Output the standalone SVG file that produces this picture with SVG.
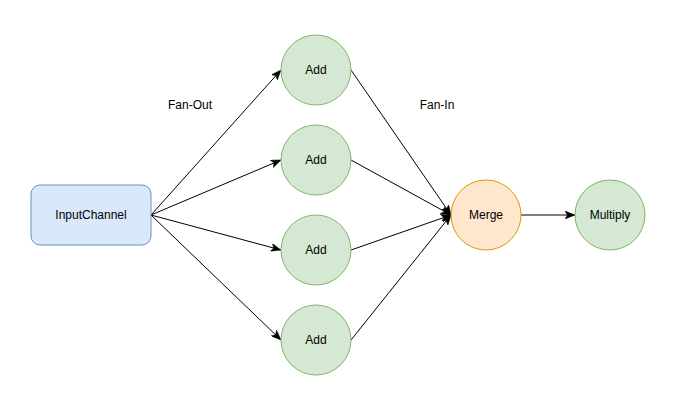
<svg xmlns="http://www.w3.org/2000/svg" width="687" height="420" viewBox="0 0 687 420">
<defs>
<marker id="arr" viewBox="0 0 10 8" refX="10" refY="4" markerWidth="10" markerHeight="8" markerUnits="userSpaceOnUse" orient="auto">
<path d="M0,0 L10,4 L0,8 L2.5,4 Z" fill="#000" stroke="#000" stroke-width="0.5"/>
</marker>
<style>
text{font-family:"Liberation Sans",Arial,Helvetica,sans-serif;font-size:12px;fill:#000;text-anchor:middle;dominant-baseline:central}
.add{fill:#d5e8d4;stroke:#82b366;stroke-width:1}
.edge{fill:none;stroke:#000;stroke-width:1;marker-end:url(#arr)}
</style>
</defs>
<rect width="687" height="420" fill="#fff"/>
<g id="connectors">
<line class="edge" x1="151" y1="215" x2="281" y2="70"/>
<line class="edge" x1="151" y1="215" x2="281" y2="160"/>
<line class="edge" x1="151" y1="215" x2="281" y2="250"/>
<line class="edge" x1="151" y1="215" x2="281" y2="340"/>
<line class="edge" x1="351" y1="70" x2="451" y2="215"/>
<line class="edge" x1="351" y1="160" x2="451" y2="215"/>
<line class="edge" x1="351" y1="250" x2="451" y2="215"/>
<line class="edge" x1="351" y1="340" x2="451" y2="215"/>
<line class="edge" x1="521" y1="215" x2="575" y2="215"/>
</g>
<g id="input">
<rect x="31" y="185" width="120" height="60" rx="9" fill="#dae8fc" stroke="#6c8ebf"/>
<text x="91" y="215">InputChannel</text>
</g>
<g id="add1"><circle class="add" cx="316" cy="70" r="35"/><text x="316" y="70">Add</text></g>
<g id="add2"><circle class="add" cx="316" cy="160" r="35"/><text x="316" y="160">Add</text></g>
<g id="add3"><circle class="add" cx="316" cy="250" r="35"/><text x="316" y="250">Add</text></g>
<g id="add4"><circle class="add" cx="316" cy="340" r="35"/><text x="316" y="340">Add</text></g>
<g id="merge"><circle cx="486" cy="215" r="35" fill="#ffe6cc" stroke="#d79b00"/><text x="486" y="215">Merge</text></g>
<g id="multiply"><circle class="add" cx="610" cy="215" r="35"/><text x="610" y="215">Multiply</text></g>
<g id="label-fanout"><text x="190" y="105">Fan-Out</text></g>
<g id="label-fanin"><text x="437" y="105">Fan-In</text></g>
</svg>
